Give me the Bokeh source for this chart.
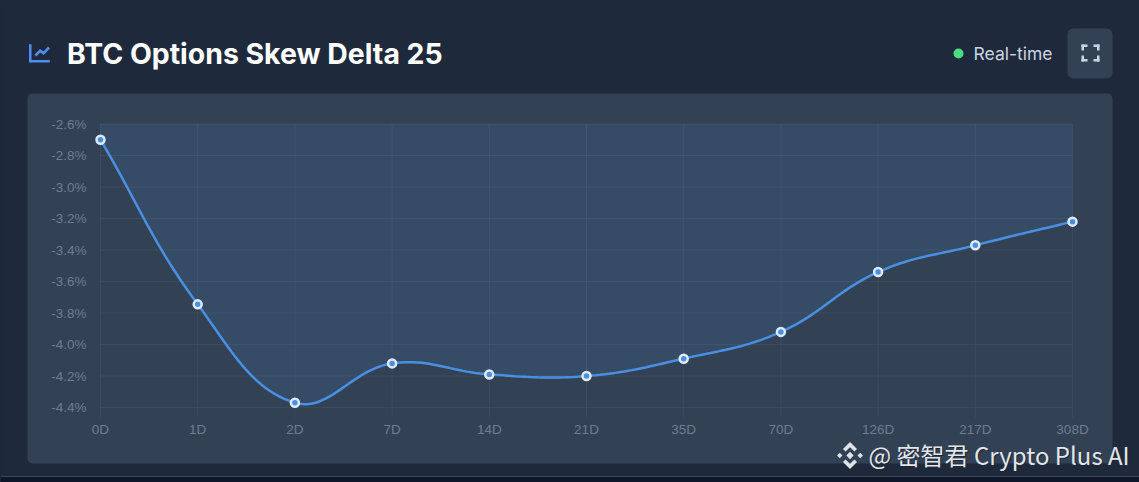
import numpy as np
from bokeh.embed import file_html
from bokeh.resources import INLINE
from bokeh.plotting import figure
from bokeh.models import (BoxAnnotation, FixedTicker, Label, PolyAnnotation, Range1d)

categories = ["0D", "1D", "2D", "7D", "14D", "21D", "35D", "70D", "126D", "217D", "308D"]
skew_values = [-2.70, -3.745, -4.37, -4.12, -4.19, -4.20, -4.09, -3.92, -3.54, -3.37, -3.22]
y_ticks = [-2.6, -2.8, -3.0, -3.2, -3.4, -3.6, -3.8, -4.0, -4.2, -4.4]

W, H = 1139, 482
# plot scale geometry in canvas pixels: the frame fills the canvas
X0, X1, Y0, Y1 = 100.0, 1072.0, 123.5, 407.0
px_per_x = (X1 - X0) / (len(categories) - 1)
px_per_y = (Y1 - Y0) / 1.8
CARD, PANEL, PAGE, FILL = "#1e293b", "#334155", "#0f172a", "#364b66"
LINE, GRID, TICK = "#4a90e2", "#ffffff", "#6f7d8f"

p = figure(width=W, height=H, output_backend="svg", toolbar_location=None,
           x_range=Range1d(-X0 / px_per_x, (W - X0) / px_per_x),
           y_range=Range1d(-2.6 - (H - Y0) / px_per_y, -2.6 + Y0 / px_per_y),
           min_border=0)
p.border_fill_color = CARD
p.background_fill_color = CARD
p.outline_line_alpha = 0
p.grid.visible = False


def box(l, t, r, b, color, radius=0, level="underlay"):
    p.add_layout(BoxAnnotation(left=l, right=r, top=t, bottom=b,
                               left_units="canvas", right_units="canvas",
                               top_units="canvas", bottom_units="canvas",
                               fill_color=color, fill_alpha=1, line_alpha=0,
                               border_radius=radius, level=level))


def poly(pts, color, level="underlay"):
    p.add_layout(PolyAnnotation(xs=[a for a, _ in pts], ys=[b for _, b in pts],
                                xs_units="canvas", ys_units="canvas",
                                fill_color=color, fill_alpha=1, line_alpha=0, level=level))


def text(x, y, s, size, color, font, style="normal", align="left", level="overlay"):
    p.add_layout(Label(x=x, y=y, text=s, x_units="canvas", y_units="canvas",
                       text_font=font, text_font_size=size, text_color=color,
                       text_font_style=style, text_align=align, text_baseline="middle",
                       level=level))


# page furniture
box(0, 476, W, H, PAGE)
box(0, 475.5, W, 476.5, "#3a4a5e")
box(27, 93, 1112, 463, PANEL, radius=5)
box(1067, 28, 1112, 78, PANEL, radius=6)

# header
text(66.5, 53, "BTC Options Skew Delta 25", "28.4px", "#ffffff", "Inter", "bold")
text(973, 52.5, "Real-time", "17.5px", "#cbd5e1", "Inter")
box(953, 48, 963, 58, "#4ade80", radius=5, level="overlay")

# chart-line icon
ICON = "#4f8ef0"
box(28.5, 43.5, 31, 62, ICON, radius=1, level="overlay")
box(28.5, 59.5, 49.5, 62, ICON, radius=1, level="overlay")
poly([(34, 54), (39.5, 48.5), (43, 51), (47.5, 46), (49.5, 48), (43.2, 54.5), (39.7, 52), (35.8, 56)],
     ICON, level="overlay")

# expand icon
C = "#cbd5e1"
for (cx, sx) in ((1081, 1), (1099, -1)):
    for (cy, sy) in ((44, 1), (61, -1)):
        box(min(cx, cx + sx * 6), min(cy, cy + sy * 2.5), max(cx, cx + sx * 6), max(cy, cy + sy * 2.5), C, level="overlay")
        box(min(cx, cx + sx * 2.5), min(cy, cy + sy * 6), max(cx, cx + sx * 2.5), max(cy, cy + sy * 6), C, level="overlay")

# ---- chart -------------------------------------------------------------
xs = np.arange(len(categories), dtype=float)
ys = np.array(skew_values, dtype=float)


def smooth(xv, yv, tension=0.4, n=24):
    """Cubic Bezier spline through the values, with control points worked out in pixels."""
    px, py = xv * px_per_x, yv * px_per_y
    cp_prev, cp_next = [None] * len(px), [None] * len(px)
    for i in range(len(px)):
        a = max(i - 1, 0)
        b = min(i + 1, len(px) - 1)
        d01 = np.hypot(px[i] - px[a], py[i] - py[a])
        d12 = np.hypot(px[b] - px[i], py[b] - py[i])
        tot = d01 + d12
        s01, s12 = d01 / tot, d12 / tot
        dx, dy = px[b] - px[a], py[b] - py[a]
        cp_prev[i] = (px[i] - tension * s01 * dx, py[i] - tension * s01 * dy)
        cp_next[i] = (px[i] + tension * s12 * dx, py[i] + tension * s12 * dy)
    ox, oy = [], []
    t = np.linspace(0, 1, n, endpoint=False)
    for i in range(len(px) - 1):
        c0, c1 = cp_next[i], cp_prev[i + 1]
        ox.extend((1 - t) ** 3 * px[i] + 3 * (1 - t) ** 2 * t * c0[0] + 3 * (1 - t) * t ** 2 * c1[0] + t ** 3 * px[i + 1])
        oy.extend((1 - t) ** 3 * py[i] + 3 * (1 - t) ** 2 * t * c0[1] + 3 * (1 - t) * t ** 2 * c1[1] + t ** 3 * py[i + 1])
    ox.append(px[-1])
    oy.append(py[-1])
    return np.array(ox) / px_per_x, np.array(oy) / px_per_y


cx, cy = smooth(xs, ys)

p.varea(x=cx, y1=cy, y2=np.full_like(cy, y_ticks[0]), fill_color=FILL, fill_alpha=1)

# grid: horizontal rules span the plot, vertical ones run on into the tick marks
bottom = y_ticks[-1] - 10 / px_per_y
p.segment(x0=xs, x1=xs, y0=np.full_like(xs, y_ticks[0]), y1=np.full_like(xs, bottom),
          line_color=GRID, line_alpha=0.05, line_width=1)
yt = np.array(y_ticks)
p.segment(x0=np.zeros_like(yt), x1=np.full_like(yt, xs[-1]), y0=yt, y1=yt,
          line_color=GRID, line_alpha=0.05, line_width=1)

p.line(cx, cy, line_color=LINE, line_width=2.5)
p.scatter(xs, ys, size=8, marker="circle", fill_color=LINE, line_color="#dfeaf6", line_width=2.5)

# axes sit at fixed places inside the full-canvas frame
p.xaxis.fixed_location = bottom
p.yaxis.fixed_location = -10 / px_per_x
p.xaxis.ticker = FixedTicker(ticks=list(range(len(categories))))
p.xaxis.major_label_overrides = {i: c for i, c in enumerate(categories)}
p.yaxis.ticker = FixedTicker(ticks=y_ticks)
p.yaxis.major_label_overrides = {v: f"{v:.1f}%" for v in y_ticks}
for ax in (p.xaxis, p.yaxis):
    ax.axis_line_alpha = 0
    ax.major_tick_line_alpha = 0
    ax.minor_tick_line_alpha = 0
    ax.major_label_text_color = TICK
    ax.major_label_text_font = "Liberation Sans"
    ax.major_label_text_font_size = "13.5px"
    ax.major_tick_in = 0
    ax.major_tick_out = 0
p.xaxis.major_label_standoff = 4
p.yaxis.major_label_standoff = 4

# watermark
LOGO = "#dfe4ea"
lx, ly, R = 849.5, 455.0, 13.5


def logo(pts):
    poly([(lx + a * R, ly + b * R) for a, b in pts], LOGO, level="overlay")


logo([(0, -1), (.52, -.48), (.33, -.29), (0, -.62), (-.33, -.29), (-.52, -.48)])
logo([(0, 1), (.52, .48), (.33, .29), (0, .62), (-.33, .29), (-.52, .48)])
logo([(0, -.27), (.27, 0), (0, .27), (-.27, 0)])
logo([(-.76, -.2), (-.56, 0), (-.76, .2), (-.96, 0)])
logo([(.76, -.2), (.96, 0), (.76, .2), (.56, 0)])
text(869, 454.5, "@ 密智君 Crypto Plus AI", "24px", "#1f2733", "Noto Sans CJK SC")
text(868, 453.5, "@ 密智君 Crypto Plus AI", "24px", "#e2e6ea", "Noto Sans CJK SC")

html = file_html(p, INLINE)
html = html.replace("</head>", "<style>html,body{margin:0;padding:0;overflow:hidden;background:%s}</style></head>" % CARD)
open("out.html", "w").write(html)
